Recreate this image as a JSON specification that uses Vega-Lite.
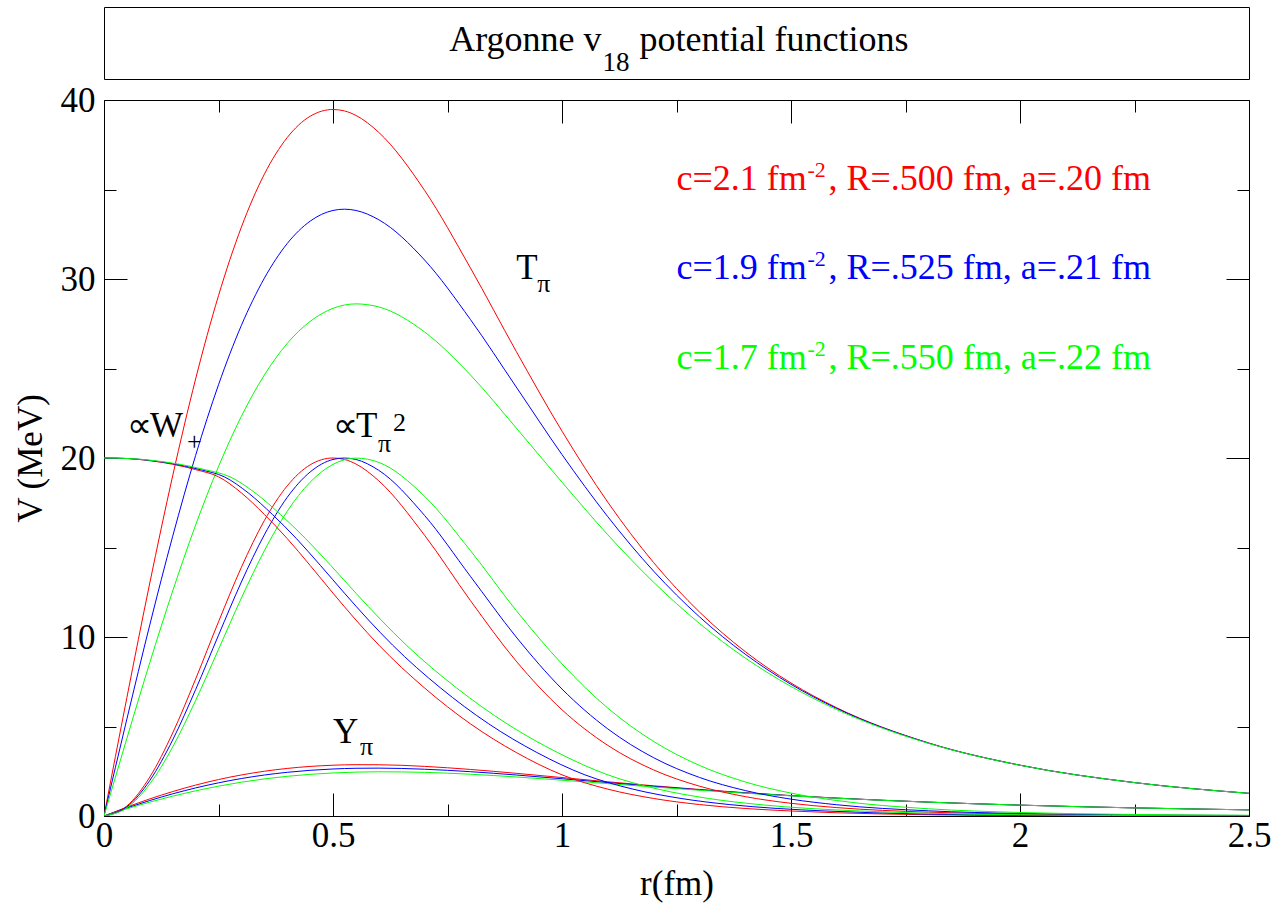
{
"$schema": "https://vega.github.io/schema/vega-lite/v6.json",
"background": "white",
"padding": {"left": 12, "top": 6, "right": 5, "bottom": 5},
"spacing": 2,
"config": {
  "font": "Liberation Serif",
  "view": {"stroke": "#000000", "strokeWidth": 1},
  "mark": {"font": "Liberation Serif"},
  "text": {"font": "Liberation Serif"},
  "title": {"font": "Liberation Serif"},
  "axis": {"domain": false, "grid": false, "ticks": true, "tickColor": "#000000", "tickWidth": 1, "labelFont": "Liberation Serif", "labelFontSize": 35, "labelColor": "#000000", "labelFlush": false, "titleFont": "Liberation Serif", "titleFontSize": 35, "titleFontWeight": "normal", "titleColor": "#000000"}
},
"datasets": {
"legend": [
 {"c": "2.1", "t1": "c=2.1 fm", "t3": ", R=.500 fm, a=.20 fm", "yv": 35},
 {"c": "1.9", "t1": "c=1.9 fm", "t3": ", R=.525 fm, a=.21 fm", "yv": 30},
 {"c": "1.7", "t1": "c=1.7 fm", "t3": ", R=.550 fm, a=.22 fm", "yv": 25}
],
"curves": [
{"f":"T","c":"2.1","r":0,"v":0},{"f":"T","c":"2.1","r":0.05,"v":6.62},{"f":"T","c":"2.1","r":0.1,"v":13.02},{"f":"T","c":"2.1","r":0.15,"v":19.01},{"f":"T","c":"2.1","r":0.2,"v":24.41},{"f":"T","c":"2.1","r":0.25,"v":29.07},{"f":"T","c":"2.1","r":0.3,"v":32.9},{"f":"T","c":"2.1","r":0.35,"v":35.85},{"f":"T","c":"2.1","r":0.4,"v":37.9},{"f":"T","c":"2.1","r":0.45,"v":39.09},{"f":"T","c":"2.1","r":0.5,"v":39.47},{"f":"T","c":"2.1","r":0.525,"v":39.39},{"f":"T","c":"2.1","r":0.55,"v":39.14},{"f":"T","c":"2.1","r":0.6,"v":38.19},{"f":"T","c":"2.1","r":0.7,"v":34.95},{"f":"T","c":"2.1","r":0.8,"v":30.62},{"f":"T","c":"2.1","r":0.9,"v":25.96},{"f":"T","c":"2.1","r":1.0,"v":21.5},{"f":"T","c":"2.1","r":1.1,"v":17.53},{"f":"T","c":"2.1","r":1.2,"v":14.16},{"f":"T","c":"2.1","r":1.3,"v":11.4},{"f":"T","c":"2.1","r":1.4,"v":9.186},{"f":"T","c":"2.1","r":1.5,"v":7.43},{"f":"T","c":"2.1","r":1.6,"v":6.045},{"f":"T","c":"2.1","r":1.8,"v":4.084},{"f":"T","c":"2.1","r":2.0,"v":2.839},{"f":"T","c":"2.1","r":2.25,"v":1.866},{"f":"T","c":"2.1","r":2.5,"v":1.266},
{"f":"T","c":"1.9","r":0,"v":0},{"f":"T","c":"1.9","r":0.05,"v":5.42},{"f":"T","c":"1.9","r":0.1,"v":10.68},{"f":"T","c":"1.9","r":0.15,"v":15.63},{"f":"T","c":"1.9","r":0.2,"v":20.14},{"f":"T","c":"1.9","r":0.25,"v":24.09},{"f":"T","c":"1.9","r":0.3,"v":27.41},{"f":"T","c":"1.9","r":0.35,"v":30.04},{"f":"T","c":"1.9","r":0.4,"v":31.98},{"f":"T","c":"1.9","r":0.45,"v":33.23},{"f":"T","c":"1.9","r":0.5,"v":33.83},{"f":"T","c":"1.9","r":0.525,"v":33.9},{"f":"T","c":"1.9","r":0.55,"v":33.83},{"f":"T","c":"1.9","r":0.6,"v":33.31},{"f":"T","c":"1.9","r":0.7,"v":31.06},{"f":"T","c":"1.9","r":0.8,"v":27.74},{"f":"T","c":"1.9","r":0.9,"v":23.97},{"f":"T","c":"1.9","r":1.0,"v":20.19},{"f":"T","c":"1.9","r":1.1,"v":16.72},{"f":"T","c":"1.9","r":1.2,"v":13.68},{"f":"T","c":"1.9","r":1.3,"v":11.13},{"f":"T","c":"1.9","r":1.4,"v":9.04},{"f":"T","c":"1.9","r":1.5,"v":7.355},{"f":"T","c":"1.9","r":1.6,"v":6.007},{"f":"T","c":"1.9","r":1.8,"v":4.076},{"f":"T","c":"1.9","r":2.0,"v":2.837},{"f":"T","c":"1.9","r":2.25,"v":1.866},{"f":"T","c":"1.9","r":2.5,"v":1.266},
{"f":"T","c":"1.7","r":0,"v":0},{"f":"T","c":"1.7","r":0.05,"v":4.34},{"f":"T","c":"1.7","r":0.1,"v":8.57},{"f":"T","c":"1.7","r":0.15,"v":12.57},{"f":"T","c":"1.7","r":0.2,"v":16.25},{"f":"T","c":"1.7","r":0.25,"v":19.52},{"f":"T","c":"1.7","r":0.3,"v":22.33},{"f":"T","c":"1.7","r":0.35,"v":24.63},{"f":"T","c":"1.7","r":0.4,"v":26.4},{"f":"T","c":"1.7","r":0.45,"v":27.63},{"f":"T","c":"1.7","r":0.5,"v":28.36},{"f":"T","c":"1.7","r":0.525,"v":28.545},{"f":"T","c":"1.7","r":0.55,"v":28.61},{"f":"T","c":"1.7","r":0.6,"v":28.44},{"f":"T","c":"1.7","r":0.7,"v":27.04},{"f":"T","c":"1.7","r":0.8,"v":24.64},{"f":"T","c":"1.7","r":0.9,"v":21.68},{"f":"T","c":"1.7","r":1.0,"v":18.65},{"f":"T","c":"1.7","r":1.1,"v":15.71},{"f":"T","c":"1.7","r":1.2,"v":13.06},{"f":"T","c":"1.7","r":1.3,"v":10.76},{"f":"T","c":"1.7","r":1.4,"v":8.827},{"f":"T","c":"1.7","r":1.5,"v":7.237},{"f":"T","c":"1.7","r":1.6,"v":5.945},{"f":"T","c":"1.7","r":1.8,"v":4.06},{"f":"T","c":"1.7","r":2.0,"v":2.834},{"f":"T","c":"1.7","r":2.25,"v":1.865},{"f":"T","c":"1.7","r":2.5,"v":1.266},
{"f":"Y","c":"2.1","r":0,"v":0},{"f":"Y","c":"2.1","r":0.05,"v":0.498},{"f":"Y","c":"2.1","r":0.1,"v":0.955},{"f":"Y","c":"2.1","r":0.15,"v":1.365},{"f":"Y","c":"2.1","r":0.2,"v":1.726},{"f":"Y","c":"2.1","r":0.25,"v":2.036},{"f":"Y","c":"2.1","r":0.3,"v":2.293},{"f":"Y","c":"2.1","r":0.35,"v":2.5},{"f":"Y","c":"2.1","r":0.4,"v":2.658},{"f":"Y","c":"2.1","r":0.45,"v":2.769},{"f":"Y","c":"2.1","r":0.5,"v":2.837},{"f":"Y","c":"2.1","r":0.55,"v":2.867},{"f":"Y","c":"2.1","r":0.6,"v":2.863},{"f":"Y","c":"2.1","r":0.7,"v":2.772},{"f":"Y","c":"2.1","r":0.8,"v":2.601},{"f":"Y","c":"2.1","r":0.9,"v":2.384},{"f":"Y","c":"2.1","r":1.0,"v":2.148},{"f":"Y","c":"2.1","r":1.1,"v":1.911},{"f":"Y","c":"2.1","r":1.2,"v":1.687},{"f":"Y","c":"2.1","r":1.3,"v":1.482},{"f":"Y","c":"2.1","r":1.4,"v":1.3},{"f":"Y","c":"2.1","r":1.5,"v":1.14},{"f":"Y","c":"2.1","r":1.6,"v":1.0},{"f":"Y","c":"2.1","r":1.8,"v":0.776},{"f":"Y","c":"2.1","r":2.0,"v":0.608},{"f":"Y","c":"2.1","r":2.25,"v":0.453},{"f":"Y","c":"2.1","r":2.5,"v":0.343},
{"f":"Y","c":"1.9","r":0,"v":0},{"f":"Y","c":"1.9","r":0.05,"v":0.451},{"f":"Y","c":"1.9","r":0.1,"v":0.865},{"f":"Y","c":"1.9","r":0.15,"v":1.238},{"f":"Y","c":"1.9","r":0.2,"v":1.568},{"f":"Y","c":"1.9","r":0.25,"v":1.853},{"f":"Y","c":"1.9","r":0.3,"v":2.093},{"f":"Y","c":"1.9","r":0.35,"v":2.289},{"f":"Y","c":"1.9","r":0.4,"v":2.441},{"f":"Y","c":"1.9","r":0.45,"v":2.553},{"f":"Y","c":"1.9","r":0.5,"v":2.626},{"f":"Y","c":"1.9","r":0.55,"v":2.666},{"f":"Y","c":"1.9","r":0.6,"v":2.674},{"f":"Y","c":"1.9","r":0.7,"v":2.613},{"f":"Y","c":"1.9","r":0.8,"v":2.476},{"f":"Y","c":"1.9","r":0.9,"v":2.291},{"f":"Y","c":"1.9","r":1.0,"v":2.081},{"f":"Y","c":"1.9","r":1.1,"v":1.866},{"f":"Y","c":"1.9","r":1.2,"v":1.658},{"f":"Y","c":"1.9","r":1.3,"v":1.465},{"f":"Y","c":"1.9","r":1.4,"v":1.289},{"f":"Y","c":"1.9","r":1.5,"v":1.134},{"f":"Y","c":"1.9","r":1.6,"v":0.997},{"f":"Y","c":"1.9","r":1.8,"v":0.775},{"f":"Y","c":"1.9","r":2.0,"v":0.607},{"f":"Y","c":"1.9","r":2.25,"v":0.453},{"f":"Y","c":"1.9","r":2.5,"v":0.343},
{"f":"Y","c":"1.7","r":0,"v":0},{"f":"Y","c":"1.7","r":0.05,"v":0.404},{"f":"Y","c":"1.7","r":0.1,"v":0.775},{"f":"Y","c":"1.7","r":0.15,"v":1.11},{"f":"Y","c":"1.7","r":0.2,"v":1.408},{"f":"Y","c":"1.7","r":0.25,"v":1.668},{"f":"Y","c":"1.7","r":0.3,"v":1.889},{"f":"Y","c":"1.7","r":0.35,"v":2.072},{"f":"Y","c":"1.7","r":0.4,"v":2.218},{"f":"Y","c":"1.7","r":0.45,"v":2.328},{"f":"Y","c":"1.7","r":0.5,"v":2.405},{"f":"Y","c":"1.7","r":0.55,"v":2.452},{"f":"Y","c":"1.7","r":0.6,"v":2.47},{"f":"Y","c":"1.7","r":0.7,"v":2.438},{"f":"Y","c":"1.7","r":0.8,"v":2.334},{"f":"Y","c":"1.7","r":0.9,"v":2.181},{"f":"Y","c":"1.7","r":1.0,"v":2.0},{"f":"Y","c":"1.7","r":1.1,"v":1.809},{"f":"Y","c":"1.7","r":1.2,"v":1.62},{"f":"Y","c":"1.7","r":1.3,"v":1.44},{"f":"Y","c":"1.7","r":1.4,"v":1.274},{"f":"Y","c":"1.7","r":1.5,"v":1.125},{"f":"Y","c":"1.7","r":1.6,"v":0.992},{"f":"Y","c":"1.7","r":1.8,"v":0.774},{"f":"Y","c":"1.7","r":2.0,"v":0.607},{"f":"Y","c":"1.7","r":2.25,"v":0.453},{"f":"Y","c":"1.7","r":2.5,"v":0.343},
{"f":"Q","c":"2.1","r":0,"v":0},{"f":"Q","c":"2.1","r":0.05,"v":0.563},{"f":"Q","c":"2.1","r":0.1,"v":2.176},{"f":"Q","c":"2.1","r":0.15,"v":4.639},{"f":"Q","c":"2.1","r":0.2,"v":7.649},{"f":"Q","c":"2.1","r":0.25,"v":10.849},{"f":"Q","c":"2.1","r":0.3,"v":13.896},{"f":"Q","c":"2.1","r":0.35,"v":16.5},{"f":"Q","c":"2.1","r":0.4,"v":18.441},{"f":"Q","c":"2.1","r":0.45,"v":19.617},{"f":"Q","c":"2.1","r":0.5,"v":20.0},{"f":"Q","c":"2.1","r":0.525,"v":19.919},{"f":"Q","c":"2.1","r":0.55,"v":19.667},{"f":"Q","c":"2.1","r":0.6,"v":18.724},{"f":"Q","c":"2.1","r":0.7,"v":15.682},{"f":"Q","c":"2.1","r":0.8,"v":12.037},{"f":"Q","c":"2.1","r":0.9,"v":8.652},{"f":"Q","c":"2.1","r":1.0,"v":5.934},{"f":"Q","c":"2.1","r":1.1,"v":3.945},{"f":"Q","c":"2.1","r":1.2,"v":2.574},{"f":"Q","c":"2.1","r":1.3,"v":1.668},{"f":"Q","c":"2.1","r":1.4,"v":1.083},{"f":"Q","c":"2.1","r":1.5,"v":0.709},{"f":"Q","c":"2.1","r":1.6,"v":0.469},{"f":"Q","c":"2.1","r":1.8,"v":0.214},{"f":"Q","c":"2.1","r":2.0,"v":0.104},{"f":"Q","c":"2.1","r":2.25,"v":0.045},{"f":"Q","c":"2.1","r":2.5,"v":0.021},
{"f":"Q","c":"1.9","r":0,"v":0},{"f":"Q","c":"1.9","r":0.05,"v":0.511},{"f":"Q","c":"1.9","r":0.1,"v":1.985},{"f":"Q","c":"1.9","r":0.15,"v":4.252},{"f":"Q","c":"1.9","r":0.2,"v":7.059},{"f":"Q","c":"1.9","r":0.25,"v":10.1},{"f":"Q","c":"1.9","r":0.3,"v":13.075},{"f":"Q","c":"1.9","r":0.35,"v":15.705},{"f":"Q","c":"1.9","r":0.4,"v":17.799},{"f":"Q","c":"1.9","r":0.45,"v":19.217},{"f":"Q","c":"1.9","r":0.5,"v":19.918},{"f":"Q","c":"1.9","r":0.525,"v":20.0},{"f":"Q","c":"1.9","r":0.55,"v":19.918},{"f":"Q","c":"1.9","r":0.6,"v":19.31},{"f":"Q","c":"1.9","r":0.7,"v":16.789},{"f":"Q","c":"1.9","r":0.8,"v":13.392},{"f":"Q","c":"1.9","r":0.9,"v":9.999},{"f":"Q","c":"1.9","r":1.0,"v":7.094},{"f":"Q","c":"1.9","r":1.1,"v":4.865},{"f":"Q","c":"1.9","r":1.2,"v":3.257},{"f":"Q","c":"1.9","r":1.3,"v":2.156},{"f":"Q","c":"1.9","r":1.4,"v":1.422},{"f":"Q","c":"1.9","r":1.5,"v":0.941},{"f":"Q","c":"1.9","r":1.6,"v":0.628},{"f":"Q","c":"1.9","r":1.8,"v":0.289},{"f":"Q","c":"1.9","r":2.0,"v":0.14},{"f":"Q","c":"1.9","r":2.25,"v":0.061},{"f":"Q","c":"1.9","r":2.5,"v":0.028},
{"f":"Q","c":"1.7","r":0,"v":0},{"f":"Q","c":"1.7","r":0.05,"v":0.46},{"f":"Q","c":"1.7","r":0.1,"v":1.794},{"f":"Q","c":"1.7","r":0.15,"v":3.859},{"f":"Q","c":"1.7","r":0.2,"v":6.45},{"f":"Q","c":"1.7","r":0.25,"v":9.307},{"f":"Q","c":"1.7","r":0.3,"v":12.179},{"f":"Q","c":"1.7","r":0.35,"v":14.817},{"f":"Q","c":"1.7","r":0.4,"v":17.023},{"f":"Q","c":"1.7","r":0.45,"v":18.647},{"f":"Q","c":"1.7","r":0.5,"v":19.645},{"f":"Q","c":"1.7","r":0.525,"v":19.902},{"f":"Q","c":"1.7","r":0.55,"v":19.993},{"f":"Q","c":"1.7","r":0.6,"v":19.756},{"f":"Q","c":"1.7","r":0.7,"v":17.859},{"f":"Q","c":"1.7","r":0.8,"v":14.83},{"f":"Q","c":"1.7","r":0.9,"v":11.481},{"f":"Q","c":"1.7","r":1.0,"v":8.496},{"f":"Q","c":"1.7","r":1.1,"v":6.028},{"f":"Q","c":"1.7","r":1.2,"v":4.166},{"f":"Q","c":"1.7","r":1.3,"v":2.828},{"f":"Q","c":"1.7","r":1.4,"v":1.903},{"f":"Q","c":"1.7","r":1.5,"v":1.279},{"f":"Q","c":"1.7","r":1.6,"v":0.863},{"f":"Q","c":"1.7","r":1.8,"v":0.403},{"f":"Q","c":"1.7","r":2.0,"v":0.196},{"f":"Q","c":"1.7","r":2.25,"v":0.085},{"f":"Q","c":"1.7","r":2.5,"v":0.039},
{"f":"W","c":"2.1","r":0,"v":20},{"f":"W","c":"2.1","r":0.05,"v":19.97},{"f":"W","c":"2.1","r":0.1,"v":19.85},{"f":"W","c":"2.1","r":0.15,"v":19.65},{"f":"W","c":"2.1","r":0.2,"v":19.35},{"f":"W","c":"2.1","r":0.25,"v":18.95},{"f":"W","c":"2.1","r":0.3,"v":18.05},{"f":"W","c":"2.1","r":0.35,"v":16.85},{"f":"W","c":"2.1","r":0.4,"v":15.5},{"f":"W","c":"2.1","r":0.45,"v":14.0},{"f":"W","c":"2.1","r":0.5,"v":12.45},{"f":"W","c":"2.1","r":0.55,"v":10.95},{"f":"W","c":"2.1","r":0.6,"v":9.55},{"f":"W","c":"2.1","r":0.7,"v":7.15},{"f":"W","c":"2.1","r":0.8,"v":5.15},{"f":"W","c":"2.1","r":0.9,"v":3.55},{"f":"W","c":"2.1","r":1.0,"v":2.3},{"f":"W","c":"2.1","r":1.1,"v":1.5},{"f":"W","c":"2.1","r":1.2,"v":0.98},{"f":"W","c":"2.1","r":1.3,"v":0.64},{"f":"W","c":"2.1","r":1.4,"v":0.42},{"f":"W","c":"2.1","r":1.5,"v":0.28},{"f":"W","c":"2.1","r":1.6,"v":0.18},{"f":"W","c":"2.1","r":1.8,"v":0.07},{"f":"W","c":"2.1","r":2.0,"v":0.025},{"f":"W","c":"2.1","r":2.25,"v":0.008},{"f":"W","c":"2.1","r":2.5,"v":0.003},
{"f":"W","c":"1.9","r":0,"v":20},{"f":"W","c":"1.9","r":0.0525,"v":19.97},{"f":"W","c":"1.9","r":0.105,"v":19.85},{"f":"W","c":"1.9","r":0.1575,"v":19.65},{"f":"W","c":"1.9","r":0.21,"v":19.35},{"f":"W","c":"1.9","r":0.2625,"v":18.95},{"f":"W","c":"1.9","r":0.315,"v":18.05},{"f":"W","c":"1.9","r":0.3675,"v":16.85},{"f":"W","c":"1.9","r":0.42,"v":15.5},{"f":"W","c":"1.9","r":0.4725,"v":14.0},{"f":"W","c":"1.9","r":0.525,"v":12.45},{"f":"W","c":"1.9","r":0.5775,"v":10.95},{"f":"W","c":"1.9","r":0.63,"v":9.55},{"f":"W","c":"1.9","r":0.735,"v":7.15},{"f":"W","c":"1.9","r":0.84,"v":5.15},{"f":"W","c":"1.9","r":0.945,"v":3.55},{"f":"W","c":"1.9","r":1.05,"v":2.3},{"f":"W","c":"1.9","r":1.155,"v":1.5},{"f":"W","c":"1.9","r":1.26,"v":0.98},{"f":"W","c":"1.9","r":1.365,"v":0.64},{"f":"W","c":"1.9","r":1.47,"v":0.42},{"f":"W","c":"1.9","r":1.575,"v":0.28},{"f":"W","c":"1.9","r":1.68,"v":0.18},{"f":"W","c":"1.9","r":1.89,"v":0.07},{"f":"W","c":"1.9","r":2.1,"v":0.025},{"f":"W","c":"1.9","r":2.3625,"v":0.008},{"f":"W","c":"1.9","r":2.5,"v":0.005},
{"f":"W","c":"1.7","r":0,"v":20},{"f":"W","c":"1.7","r":0.055,"v":19.97},{"f":"W","c":"1.7","r":0.11,"v":19.85},{"f":"W","c":"1.7","r":0.165,"v":19.65},{"f":"W","c":"1.7","r":0.22,"v":19.35},{"f":"W","c":"1.7","r":0.275,"v":18.95},{"f":"W","c":"1.7","r":0.33,"v":18.05},{"f":"W","c":"1.7","r":0.385,"v":16.85},{"f":"W","c":"1.7","r":0.44,"v":15.5},{"f":"W","c":"1.7","r":0.495,"v":14.0},{"f":"W","c":"1.7","r":0.55,"v":12.45},{"f":"W","c":"1.7","r":0.605,"v":10.95},{"f":"W","c":"1.7","r":0.66,"v":9.55},{"f":"W","c":"1.7","r":0.77,"v":7.15},{"f":"W","c":"1.7","r":0.88,"v":5.15},{"f":"W","c":"1.7","r":0.99,"v":3.55},{"f":"W","c":"1.7","r":1.1,"v":2.3},{"f":"W","c":"1.7","r":1.21,"v":1.5},{"f":"W","c":"1.7","r":1.32,"v":0.98},{"f":"W","c":"1.7","r":1.43,"v":0.64},{"f":"W","c":"1.7","r":1.54,"v":0.42},{"f":"W","c":"1.7","r":1.65,"v":0.28},{"f":"W","c":"1.7","r":1.76,"v":0.18},{"f":"W","c":"1.7","r":1.98,"v":0.07},{"f":"W","c":"1.7","r":2.2,"v":0.025},{"f":"W","c":"1.7","r":2.475,"v":0.008},{"f":"W","c":"1.7","r":2.5,"v":0.007}
]
},
"vconcat": [
 {
  "width": 1145,
  "height": 72,
  "data": {"values": [{}]},
  "layer": [
   {"mark": {"type": "text", "font": "Liberation Serif", "align": "right", "baseline": "alphabetic", "fontSize": 36, "dx": -75, "text": "Argonne v", "color": "#000000"},
    "encoding": {"x": {"datum": 1.25, "type": "quantitative", "scale": {"domain": [0, 2.5], "nice": false}, "axis": null}, "y": {"datum": 0.39, "type": "quantitative", "scale": {"domain": [0, 1], "nice": false}, "axis": null}}},
   {"mark": {"type": "text", "font": "Liberation Serif", "align": "left", "baseline": "alphabetic", "fontSize": 27, "dx": -74, "dy": 20, "text": "18", "color": "#000000"},
    "encoding": {"x": {"datum": 1.25, "type": "quantitative", "axis": null}, "y": {"datum": 0.39, "type": "quantitative", "axis": null}}},
   {"mark": {"type": "text", "font": "Liberation Serif", "align": "left", "baseline": "alphabetic", "fontSize": 36, "dx": -37, "text": "potential functions", "color": "#000000"},
    "encoding": {"x": {"datum": 1.25, "type": "quantitative", "axis": null}, "y": {"datum": 0.39, "type": "quantitative", "axis": null}}}
  ]
 },
 {
  "width": 1145,
  "height": 716,
  "data": {"values": [{}]},
  "layer": [
   {"data": {"name": "curves"}, "transform": [{"filter": "datum.f === 'T'"}],
    "mark": {"type": "line", "interpolate": "monotone", "strokeWidth": 1, "clip": true},
    "encoding": {
     "x": {"field": "r", "type": "quantitative", "scale": {"domain": [0, 2.5], "nice": false}, "axis": {"orient": "bottom", "values": [0, 0.5, 1, 1.5, 2, 2.5], "format": "~g", "tickSize": -23, "labelPadding": 25, "title": "r(fm)", "titleFont": "Liberation Serif", "titlePadding": 13}},
     "y": {"field": "v", "type": "quantitative", "scale": {"domain": [0, 40], "nice": false}, "axis": {"orient": "left", "values": [0, 10, 20, 30, 40], "tickSize": -23, "labelPadding": 32, "title": "V (MeV)", "titleFont": "Liberation Serif", "titlePadding": 12}},
     "color": {"field": "c", "type": "nominal", "scale": {"domain": ["2.1", "1.9", "1.7"], "range": ["#ff0000", "#0000ff", "#00ff00"]}, "legend": null}
    }},
   {"data": {"name": "curves"}, "transform": [{"filter": "datum.f === 'Y'"}],
    "mark": {"type": "line", "interpolate": "monotone", "strokeWidth": 1, "clip": true},
    "encoding": {
     "x": {"field": "r", "type": "quantitative", "axis": {"orient": "bottom", "values": [0.25, 0.75, 1.25, 1.75, 2.25], "tickSize": -12, "labels": false, "title": null}},
     "y": {"field": "v", "type": "quantitative", "axis": {"orient": "left", "values": [5, 15, 25, 35], "tickSize": -12, "labels": false, "title": null}},
     "color": {"field": "c", "type": "nominal", "legend": null}
    }},
   {"data": {"name": "curves"}, "transform": [{"filter": "datum.f === 'Q'"}],
    "mark": {"type": "line", "interpolate": "monotone", "strokeWidth": 1, "clip": true},
    "encoding": {
     "x": {"field": "r", "type": "quantitative", "axis": {"orient": "top", "values": [0, 0.5, 1, 1.5, 2, 2.5], "tickSize": -23, "labels": false, "title": null}},
     "y": {"field": "v", "type": "quantitative", "axis": {"orient": "right", "values": [0, 10, 20, 30, 40], "tickSize": -23, "labels": false, "title": null}},
     "color": {"field": "c", "type": "nominal", "legend": null}
    }},
   {"data": {"name": "curves"}, "transform": [{"filter": "datum.f === 'W'"}],
    "mark": {"type": "line", "interpolate": "monotone", "strokeWidth": 1, "clip": true},
    "encoding": {
     "x": {"field": "r", "type": "quantitative", "axis": {"orient": "top", "values": [0.25, 0.75, 1.25, 1.75, 2.25], "tickSize": -12, "labels": false, "title": null}},
     "y": {"field": "v", "type": "quantitative", "axis": {"orient": "right", "values": [5, 15, 25, 35], "tickSize": -12, "labels": false, "title": null}},
     "color": {"field": "c", "type": "nominal", "legend": null}
    }},
   {"data": {"name": "legend"},
    "mark": {"type": "text", "font": "Liberation Serif", "align": "left", "baseline": "alphabetic", "fontSize": 36},
    "encoding": {"x": {"datum": 1.25, "type": "quantitative", "axis": null}, "y": {"field": "yv", "type": "quantitative", "axis": null}, "text": {"field": "t1"}, "color": {"field": "c", "type": "nominal", "legend": null}}},
   {"data": {"name": "legend"},
    "mark": {"type": "text", "font": "Liberation Serif", "align": "left", "baseline": "alphabetic", "fontSize": 22, "dx": 131, "dy": -13, "text": "-2"},
    "encoding": {"x": {"datum": 1.25, "type": "quantitative", "axis": null}, "y": {"field": "yv", "type": "quantitative", "axis": null}, "color": {"field": "c", "type": "nominal", "legend": null}}},
   {"data": {"name": "legend"},
    "mark": {"type": "text", "font": "Liberation Serif", "align": "left", "baseline": "alphabetic", "fontSize": 36, "dx": 152},
    "encoding": {"x": {"datum": 1.25, "type": "quantitative", "axis": null}, "y": {"field": "yv", "type": "quantitative", "axis": null}, "text": {"field": "t3"}, "color": {"field": "c", "type": "nominal", "legend": null}}},
   {"mark": {"type": "text", "font": "Liberation Serif", "align": "left", "baseline": "alphabetic", "fontSize": 35, "text": "T", "color": "#000000"},
    "encoding": {"x": {"datum": 0.9, "type": "quantitative", "axis": null}, "y": {"datum": 30, "type": "quantitative", "axis": null}}},
   {"mark": {"type": "text", "font": "Liberation Serif", "align": "left", "baseline": "alphabetic", "fontSize": 26, "dx": 21, "dy": 13, "text": "π", "color": "#000000"},
    "encoding": {"x": {"datum": 0.9, "type": "quantitative", "axis": null}, "y": {"datum": 30, "type": "quantitative", "axis": null}}},
   {"mark": {"type": "text", "font": "Liberation Serif", "align": "left", "baseline": "alphabetic", "fontSize": 35, "text": "Y", "color": "#000000"},
    "encoding": {"x": {"datum": 0.5, "type": "quantitative", "axis": null}, "y": {"datum": 4.08, "type": "quantitative", "axis": null}}},
   {"mark": {"type": "text", "font": "Liberation Serif", "align": "left", "baseline": "alphabetic", "fontSize": 26, "dx": 27, "dy": 12, "text": "π", "color": "#000000"},
    "encoding": {"x": {"datum": 0.5, "type": "quantitative", "axis": null}, "y": {"datum": 4.08, "type": "quantitative", "axis": null}}},
   {"mark": {"type": "text", "font": "Liberation Serif", "align": "left", "baseline": "alphabetic", "fontSize": 35, "text": "∝", "color": "#000000"},
    "encoding": {"x": {"datum": 0.05, "type": "quantitative", "axis": null}, "y": {"datum": 21.2, "type": "quantitative", "axis": null}}},
   {"mark": {"type": "text", "font": "Liberation Serif", "align": "left", "baseline": "alphabetic", "fontSize": 35, "dx": 23, "text": "W", "color": "#000000"},
    "encoding": {"x": {"datum": 0.05, "type": "quantitative", "axis": null}, "y": {"datum": 21.2, "type": "quantitative", "axis": null}}},
   {"mark": {"type": "text", "font": "Liberation Serif", "align": "left", "baseline": "alphabetic", "fontSize": 26, "dx": 60, "dy": 13, "text": "+", "color": "#000000"},
    "encoding": {"x": {"datum": 0.05, "type": "quantitative", "axis": null}, "y": {"datum": 21.2, "type": "quantitative", "axis": null}}},
   {"mark": {"type": "text", "font": "Liberation Serif", "align": "left", "baseline": "alphabetic", "fontSize": 35, "text": "∝", "color": "#000000"},
    "encoding": {"x": {"datum": 0.5, "type": "quantitative", "axis": null}, "y": {"datum": 21.2, "type": "quantitative", "axis": null}}},
   {"mark": {"type": "text", "font": "Liberation Serif", "align": "left", "baseline": "alphabetic", "fontSize": 35, "dx": 23, "text": "T", "color": "#000000"},
    "encoding": {"x": {"datum": 0.5, "type": "quantitative", "axis": null}, "y": {"datum": 21.2, "type": "quantitative", "axis": null}}},
   {"mark": {"type": "text", "font": "Liberation Serif", "align": "left", "baseline": "alphabetic", "fontSize": 26, "dx": 45, "dy": 15, "text": "π", "color": "#000000"},
    "encoding": {"x": {"datum": 0.5, "type": "quantitative", "axis": null}, "y": {"datum": 21.2, "type": "quantitative", "axis": null}}},
   {"mark": {"type": "text", "font": "Liberation Serif", "align": "left", "baseline": "alphabetic", "fontSize": 26, "dx": 60, "dy": -6, "text": "2", "color": "#000000"},
    "encoding": {"x": {"datum": 0.5, "type": "quantitative", "axis": null}, "y": {"datum": 21.2, "type": "quantitative", "axis": null}}}
  ],
  "resolve": {"axis": {"x": "independent", "y": "independent"}}
 }
]
}
